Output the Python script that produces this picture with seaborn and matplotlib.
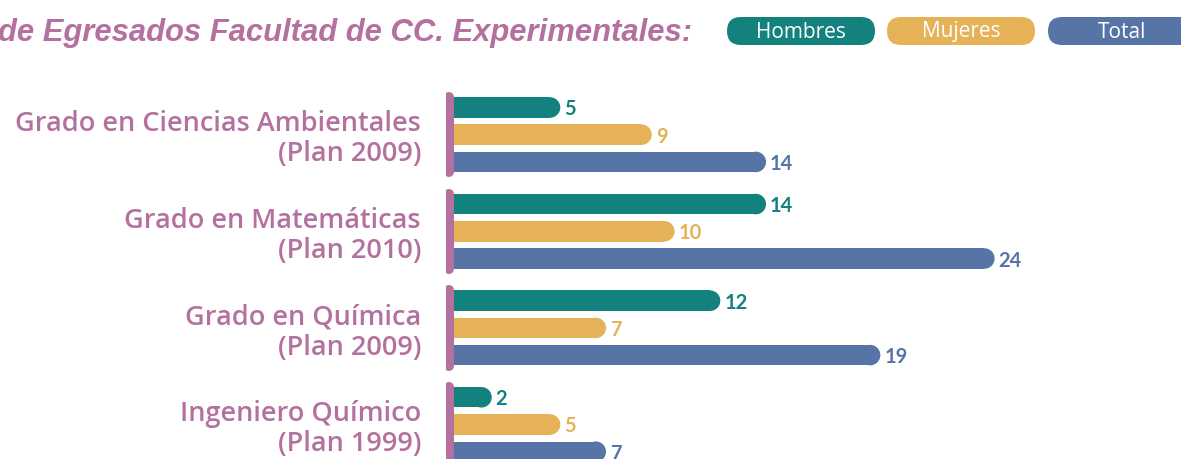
import matplotlib
matplotlib.use("Agg")
import matplotlib.pyplot as plt
from matplotlib.patches import FancyBboxPatch
import seaborn as sns
import pandas as pd

# ---- data ----
categories = [
    "Grado en Ciencias Ambientales\n(Plan 2009)",
    "Grado en Matemáticas\n(Plan 2010)",
    "Grado en Química\n(Plan 2009)",
    "Ingeniero Químico\n(Plan 1999)",
]
series = ["Hombres", "Mujeres", "Total"]
hombres = [5, 14, 12, 2]
mujeres = [9, 10, 7, 5]
total = [14, 24, 19, 7]
title_text = "de Egresados Facultad de CC. Experimentales:"

# ---- style ----
PURPLE = "#b4709e"
colors = {"Hombres": "#13817d", "Mujeres": "#e5b257", "Total": "#5675a6"}

sns.set_theme(style="white")
plt.rcParams["font.family"] = ["Open Sans", "DejaVu Sans"]

W, H, DPI = 1181, 459, 100
fig = plt.figure(figsize=(W / DPI, H / DPI), dpi=DPI)
X0 = 446            # pixel of value 0
PXU = 22.86         # pixels per unit
ax = fig.add_axes([X0 / W, 0, (W - X0) / W, 1])

bar_h_px = 20.5
r = (bar_h_px / 2) / PXU

rows = []
for s, vals in zip(series, [hombres, mujeres, total]):
    for c, v in zip(categories, vals):
        rows.append({"cat": c, "serie": s, "value": v, "draw": v - r})
df = pd.DataFrame(rows)

sns.barplot(data=df, y="cat", x="draw", hue="serie", hue_order=series,
            order=categories, orient="h", palette=colors, saturation=1,
            width=0.845, gap=0.25, legend=False, ax=ax, linewidth=0)

# rounded caps via scatter markers at bar ends
pts = []
for p in ax.patches:
    yc = p.get_y() + p.get_height() / 2
    xe = p.get_x() + p.get_width()
    pts.append((xe, yc, p.get_facecolor()))
cap_df = pd.DataFrame({"x": [a for a, _, _ in pts], "y": [b for _, b, _ in pts]})
cap_colors = [c for _, _, c in pts]
sns.scatterplot(data=cap_df, x="x", y="y", ax=ax, s=(bar_h_px * 0.72) ** 2,
                c=cap_colors, linewidth=0, marker="o", legend=False, zorder=3)

# value labels
for (xe, yc, col), v in zip(pts, list(df["value"])):
    ax.text(xe + r + 4 / PXU, yc, str(v), ha="left", va="center_baseline",
            fontsize=14.5, fontweight="bold", color=col,
            family=["Lato", "DejaVu Sans"])

# purple group separators
for i in range(len(categories)):
    ax.plot([2.5 / PXU, 2.5 / PXU], [i - 0.39, i + 0.39], color=PURPLE,
            lw=10 * 0.72, solid_capstyle="round", zorder=4)

ax.set_xlim(0, (W - X0) / PXU)
ax.set_ylim((H - 134.7) / 96.6, -134.7 / 96.6)
ax.set_xlabel("")
ax.set_ylabel("")
ax.set_xticks([])
ax.tick_params(axis="y", length=0, pad=18)
for lab in ax.get_yticklabels():
    lab.set_fontsize(19.5)
    lab.set_fontweight("semibold")
    lab.set_color(PURPLE)
    lab.set_multialignment("right")
    lab.set_linespacing(1.1)
sns.despine(ax=ax, left=True, bottom=True)

# title
fig.text(-2 / W, 1 - 41 / H, title_text, ha="left", va="baseline",
         fontsize=22.3, fontweight="bold", fontstyle="italic",
         family=["Liberation Sans", "DejaVu Sans"], color=PURPLE)

# legend pills (drawn in inch coordinates so corners stay round)
pill_x = [727, 887, 1048]
for s, px in zip(series, pill_x):
    box = FancyBboxPatch((px / DPI, (H - 45) / DPI), 1.48, 0.28,
                         boxstyle="round,pad=0,rounding_size=0.14",
                         transform=fig.dpi_scale_trans, facecolor=colors[s],
                         edgecolor="none")
    fig.add_artist(box)
    fig.text((px + 74) / W, 1 - 32 / H, s, ha="center", va="center",
             fontsize=15, color="white")

fig.savefig("out.png", dpi=DPI)
